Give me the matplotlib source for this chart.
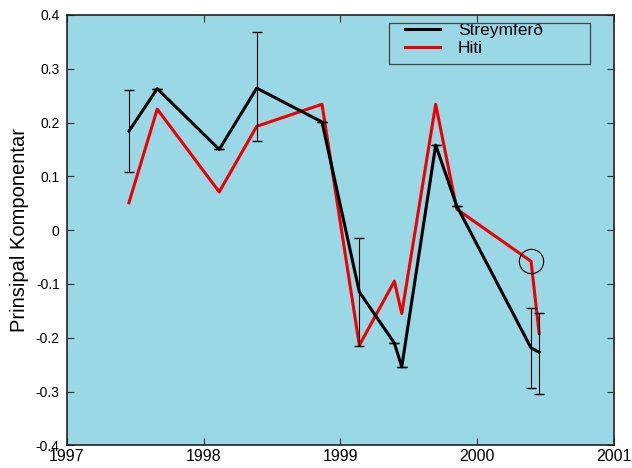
import matplotlib
matplotlib.use("Agg")
import matplotlib.pyplot as plt
from matplotlib.patches import Rectangle
from matplotlib.ticker import FuncFormatter

plt.rcParams["font.family"] = ["Liberation Sans", "DejaVu Sans"]

# sample dates (decimal years)
years = [1997.455, 1997.662, 1998.115, 1998.389, 1998.866, 1999.139,
         1999.395, 1999.449, 1999.697, 1999.851, 2000.394, 2000.453]
streymferd = [0.184, 0.263, 0.150, 0.264, 0.201, -0.115,
              -0.210, -0.254, 0.158, 0.045, -0.219, -0.227]
hiti = [0.051, 0.225, 0.071, 0.193, 0.234, -0.214,
        -0.095, -0.155, 0.234, 0.039, -0.058, -0.192]
# error bars on the Streymferð series
err_lo = [0.075, 0.0, 0.0, 0.098, 0.0, 0.100, 0.0, 0.0, 0.0, 0.0, 0.075, 0.078]
err_hi = [0.077, 0.0, 0.0, 0.104, 0.0, 0.101, 0.0, 0.0, 0.0, 0.0, 0.075, 0.073]
circled = 10  # index of the circled Hiti point

xticks = [1997, 1998, 1999, 2000, 2001]
yticks = [-0.4, -0.3, -0.2, -0.1, 0, 0.1, 0.2, 0.3, 0.4]

fig = plt.figure(figsize=(6.32, 4.68), dpi=100)
ax = fig.add_axes([0.1055, 0.0485, 0.866, 0.9195])
ax.set_facecolor("#9ad8e6")

h_red, = ax.plot(years, hiti, color="#ee0000", lw=2.2, label="Hiti", zorder=2)
h_blk, = ax.plot(years, streymferd, color="black", lw=2.2, label="Streymferð", zorder=3)

eb = ax.errorbar(years, streymferd, yerr=[err_lo, err_hi], fmt="none",
                 ecolor="black", elinewidth=0.8, capsize=3.5, capthick=1.0, zorder=4)
for cap in eb[1]:
    cap.set_color("#2a3aa0")

ax.plot([years[circled]], [hiti[circled]], marker="o", ms=17.5, mfc="none",
        mec="black", mew=0.8, ls="none", zorder=5)

ax.set_xlim(1997, 2001)
ax.set_ylim(-0.4, 0.4)
ax.set_xticks(xticks)
ax.set_yticks(yticks)
ax.yaxis.set_major_formatter(FuncFormatter(lambda v, p: "%g" % round(v, 2)))
ax.tick_params(direction="in", length=5, width=0.8, color="#333333",
               top=True, right=True)
ax.tick_params(axis="x", labelsize=11.5, pad=3)
ax.tick_params(axis="y", labelsize=10, pad=5)
for s in ax.spines.values():
    s.set_color("#222222")
    s.set_linewidth(1.2)

ax.set_ylabel("Prinsipal Komponentar", fontsize=14.5, labelpad=5)

# legend without its own frame, plus a box drawn wider than the entries
ax.legend(handles=[h_blk, h_red], loc="upper left",
          bbox_to_anchor=(0.618, 0.981), fontsize=12.5, frameon=False,
          handlelength=2.0, labelspacing=0.12, borderpad=0,
          handletextpad=1.05, borderaxespad=0)
ax.add_patch(Rectangle((0.589, 0.886), 0.367, 0.096, transform=ax.transAxes,
                       fill=False, edgecolor="#444444", lw=0.9, zorder=6))
fig.savefig("out.png", dpi=100)
